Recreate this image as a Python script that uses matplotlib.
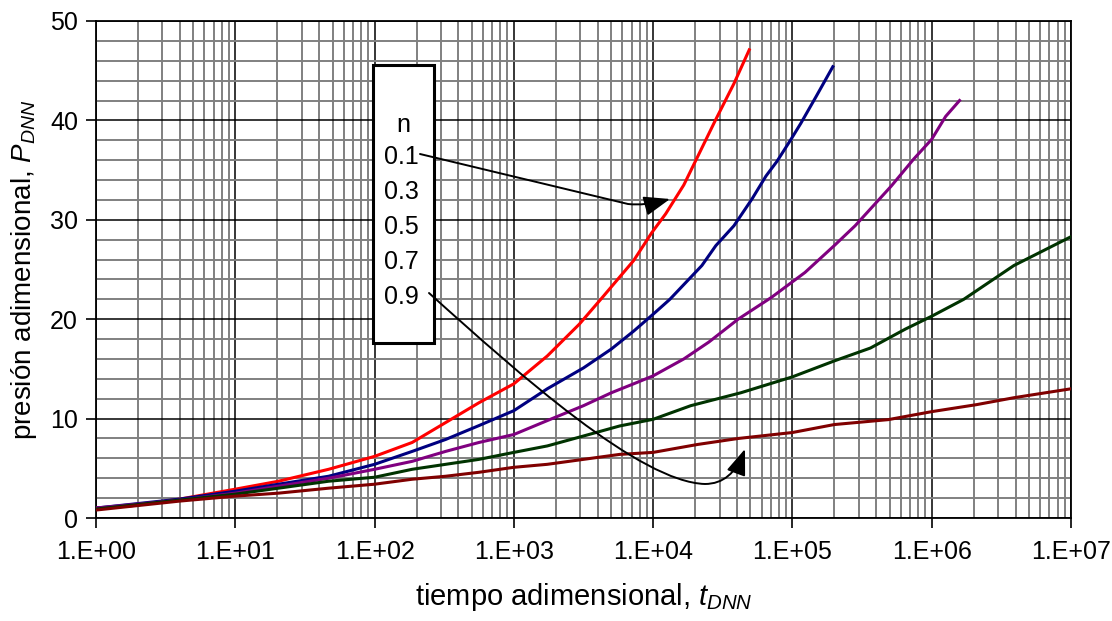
import numpy as np
import matplotlib
matplotlib.use("Agg")
from matplotlib import pyplot as plt
from matplotlib.path import Path
from matplotlib.patches import FancyArrowPatch, Rectangle
from matplotlib.ticker import FixedLocator, FuncFormatter

plt.rcParams['font.family'] = ['Liberation Sans', 'DejaVu Sans']
plt.rcParams['mathtext.fontset'] = 'custom'
plt.rcParams['mathtext.it'] = 'Liberation Sans:italic'
plt.rcParams['mathtext.rm'] = 'Liberation Sans'

# data (x as log10 of tDNN)
n_values = ['0.1', '0.3', '0.5', '0.7', '0.9']
colors = ['#FF0000', '#000080', '#800080', '#003300', '#800000']

logt_01 = [0, 0.24, 0.6, 1.0, 1.31, 1.67, 2.0, 2.27, 2.51, 2.75, 3.0, 3.24, 3.47, 3.63, 3.86, 3.99, 4.09, 4.22, 4.45, 4.58, 4.69]
p_01 = [1.0, 1.2, 1.9, 2.9, 3.7, 4.9, 6.2, 7.6, 9.6, 11.6, 13.5, 16.3, 19.5, 22.1, 25.9, 28.7, 30.6, 33.5, 40.1, 43.7, 47.1]

logt_03 = [0, 0.6, 1.0, 1.31, 1.67, 2.0, 2.27, 2.51, 2.75, 3.0, 3.24, 3.5, 3.7, 3.86, 4.0, 4.12, 4.35, 4.45, 4.58, 4.71, 4.81, 4.89, 4.99, 5.06, 5.17, 5.29]
p_03 = [1.0, 1.9, 2.7, 3.4, 4.2, 5.4, 6.7, 7.9, 9.3, 10.8, 13.0, 15.1, 17.0, 18.8, 20.5, 22.0, 25.4, 27.4, 29.4, 32.1, 34.4, 35.9, 38.1, 39.7, 42.4, 45.4]

logt_05 = [0, 0.6, 1.0, 1.31, 1.67, 2.0, 2.27, 2.51, 2.75, 3.0, 3.24, 3.5, 3.7, 3.86, 4.0, 4.22, 4.4, 4.61, 4.85, 5.09, 5.3, 5.45, 5.58, 5.71, 5.87, 6.0, 6.1, 6.2]
p_05 = [1.0, 1.8, 2.5, 3.2, 4.0, 4.9, 5.7, 6.7, 7.6, 8.4, 9.8, 11.3, 12.6, 13.5, 14.3, 16.0, 17.7, 20.0, 22.2, 24.7, 27.4, 29.4, 31.4, 33.4, 36.1, 38.1, 40.4, 42.0]

logt_07 = [0, 0.6, 1.0, 1.31, 1.67, 2.0, 2.27, 2.51, 2.75, 3.0, 3.24, 3.5, 3.76, 4.0, 4.27, 4.63, 5.0, 5.3, 5.56, 5.81, 6.0, 6.23, 6.59, 7.0]
p_07 = [0.9, 1.8, 2.4, 3.0, 3.7, 4.1, 4.9, 5.4, 5.9, 6.6, 7.25, 8.25, 9.26, 9.93, 11.3, 12.6, 14.2, 15.8, 17.1, 19.0, 20.3, 22.0, 25.4, 28.3]

logt_09 = [0, 0.6, 1.0, 1.31, 1.67, 2.0, 2.27, 2.51, 2.75, 3.0, 3.24, 3.5, 3.76, 4.0, 4.32, 4.61, 5.0, 5.3, 5.69, 6.0, 6.32, 6.59, 7.0]
p_09 = [0.8, 1.7, 2.2, 2.5, 3.0, 3.4, 3.9, 4.2, 4.6, 5.1, 5.4, 5.9, 6.4, 6.6, 7.4, 8.0, 8.6, 9.4, 9.9, 10.7, 11.4, 12.1, 13.0]

x_ticks = [1e0, 1e1, 1e2, 1e3, 1e4, 1e5, 1e6, 1e7]
y_ticks = [0, 10, 20, 30, 40, 50]

W, H = 1112, 621
fig = plt.figure(figsize=(W / 100, H / 100), dpi=100)
ax = fig.add_axes([96 / W, 1 - 518 / H, (1071 - 96) / W, (518 - 21) / H])

def fx(px):
    return px / W

def fy(py):
    return 1 - py / H

ax.set_xscale('log')
ax.set_xlim(1, 1e7)
ax.set_ylim(0, 50)

# grid
minor_x = [m * 10 ** d for d in range(7) for m in range(2, 10)]
ax.xaxis.set_minor_locator(FixedLocator(minor_x))
ax.yaxis.set_minor_locator(FixedLocator(np.arange(0, 51, 2)))
ax.set_xticks(x_ticks)
ax.set_yticks(y_ticks)
ax.grid(which='minor', color='#808080', lw=1.4, zorder=0)
ax.grid(which='major', color='black', lw=1.1, zorder=1)
ax.set_axisbelow(True)

ax.xaxis.set_major_formatter(FuncFormatter(lambda v, p: '1.E+%02d' % round(np.log10(v))))
ax.tick_params(which='minor', length=0)
ax.tick_params(which='major', direction='out', length=7, width=1.2, labelsize=18, pad=9)
ax.tick_params(axis='y', pad=6)
for s in ax.spines.values():
    s.set_linewidth(1.3)
    s.set_color('black')

series = [(logt_01, p_01), (logt_03, p_03), (logt_05, p_05), (logt_07, p_07), (logt_09, p_09)]
for (lt, p), c in zip(series, colors):
    ax.plot(10 ** np.array(lt), p, color=c, lw=2.2, zorder=3)

ax.set_xlabel(r'tiempo adimensional, $\mathit{t}_{\mathit{DNN}}$', fontsize=21, labelpad=12)
ax.set_ylabel(r'presión adimensional, $\mathit{P}_{\mathit{DNN}}$', fontsize=20, labelpad=8)

# n box
box = Rectangle((fx(373), fy(343)), fx(434) - fx(373), fy(65) - fy(343), transform=fig.transFigure,
                facecolor='white', edgecolor='black', lw=2.2, zorder=5)
fig.patches.append(box)
fig.text(fx(403), fy(125), 'n', ha='center', va='center', fontsize=18, zorder=6)
for i, lab in enumerate(n_values):
    fig.text(fx(384), fy(157 + 35 * i), lab, ha='left', va='center', fontsize=18, zorder=6)

# arrows
path1 = Path([(fx(420), fy(154)), (fx(628), fy(204)), (fx(645), fy(206)), (fx(670), fy(199))],
             [Path.MOVETO, Path.LINETO, Path.CURVE3, Path.CURVE3])
path2 = Path([(fx(429), fy(293)), (fx(520), fy(375)), (fx(640), fy(482)), (fx(705), fy(484)),
              (fx(732), fy(484)), (fx(745), fy(449))],
             [Path.MOVETO, Path.CURVE4, Path.CURVE4, Path.CURVE4, Path.CURVE3, Path.CURVE3])
for pth in (path1, path2):
    arr = FancyArrowPatch(path=pth, transform=fig.transFigure, arrowstyle='-|>,head_length=0.8,head_width=0.3',
                          mutation_scale=20, color='black', lw=1.4, zorder=7)
    fig.patches.append(arr)

fig.savefig('out.png', dpi=100)
